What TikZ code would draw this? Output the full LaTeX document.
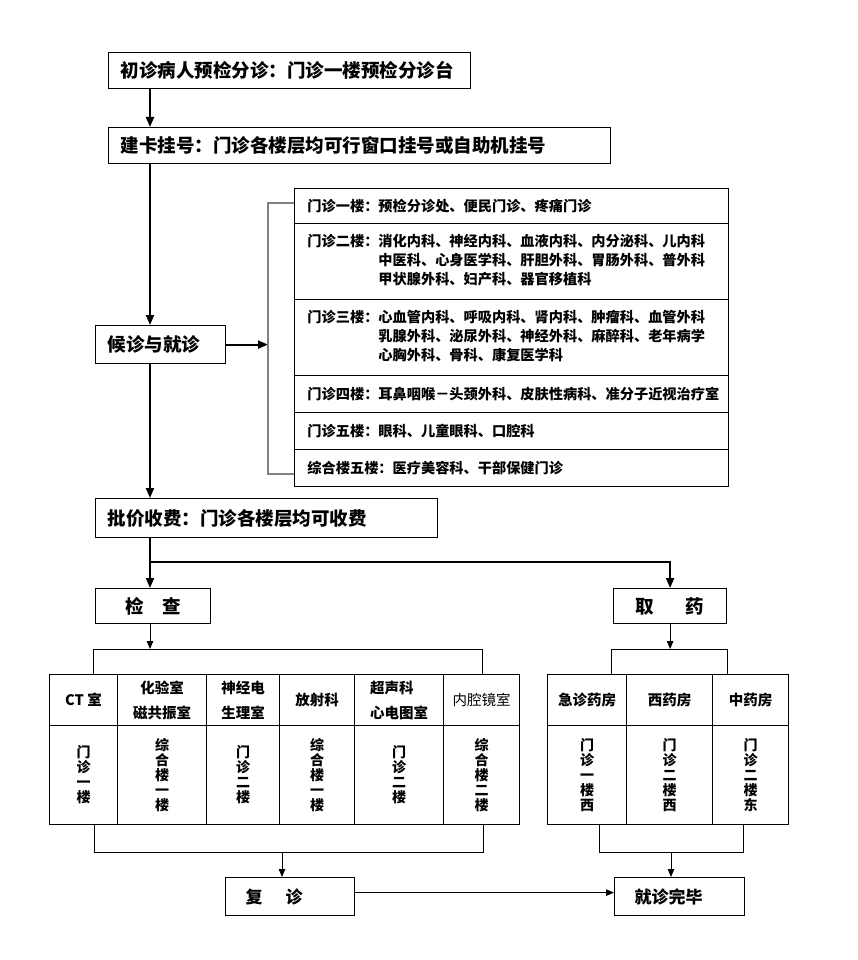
\documentclass[tikz,border=0pt]{standalone}
\usepackage{fontspec}
\setmainfont{Noto Sans CJK SC}
\usepackage{tikz}
\usetikzlibrary{arrows.meta,positioning}
\definecolor{brgray}{RGB}{128,128,128}

\tikzset{
  flowbox/.style={draw, line width=1.2pt, anchor=north west, inner xsep=12pt, inner ysep=0pt,
    align=left, font=\bfseries\fontsize{18.5}{20}\selectfont},
  endbox/.style={flowbox, inner xsep=20pt, font=\bfseries\fontsize{17}{19}\selectfont},
  floorrow/.style={draw, line width=0.9pt, anchor=north west, inner xsep=13pt, inner ysep=0pt,
    text width=408pt, align=left, font=\bfseries\fontsize{14.2}{19}\selectfont},
  headcell/.style={draw, line width=1pt, anchor=north west, inner sep=0pt, align=center,
    minimum height=51pt, font=\bfseries\fontsize{14.5}{25}\selectfont},
  bodycell/.style={draw, line width=1pt, anchor=north west, inner sep=0pt, align=center,
    minimum height=99pt, font=\bfseries\fontsize{14}{15}\selectfont},
  mainarrow/.style={line width=2pt, -{Triangle[length=10pt,width=8pt]}},
  subarrow/.style={line width=1pt, -{Triangle[length=8pt,width=6.5pt]}},
  subline/.style={line width=1pt},
}

\begin{document}
\begin{tikzpicture}[x=1pt,y=-1pt]
    \useasboundingbox (0,0) rectangle (857,960);

    % main flow
    \node[flowbox, text width=338pt, minimum height=36pt] (chuzhen) at (108,52) {初诊病人预检分诊：门诊一楼预检分诊台};
    \node[flowbox, text width=478pt, minimum height=36pt] (guahao) at (108,127) {建卡挂号：门诊各楼层均可行窗口挂号或自助机挂号};
    \node[flowbox, text width=106pt, minimum height=38pt] (houzhen) at (95,325) {候诊与就诊};
    \node[flowbox, text width=318pt, minimum height=39pt] (pijia) at (95,498) {批价收费：门诊各楼层均可收费};
    \node[flowbox, align=center, text width=91pt, minimum height=35pt] (jiancha) at (95,588) {检\hspace{1em}查};
    \node[flowbox, align=center, text width=89pt, minimum height=35pt] (quyao) at (613,588) {取\hspace{1.7em}药};
    \node[endbox, text width=89pt, minimum height=38pt] (fuzhen) at (225,877) {复\hspace{1.35em}诊};
    \node[endbox, text width=90pt, minimum height=38pt] (wanbi) at (614,877) {就诊完毕};

    \coordinate (trunk) at (150,0);
    \coordinate (split) at (150,562);
    \coordinate (brk) at (268,0);

    \draw[mainarrow] (chuzhen.south -| trunk) -- (guahao.north -| trunk);
    \draw[mainarrow] (guahao.south -| trunk) -- (houzhen.north -| trunk);
    \draw[mainarrow] (houzhen.south -| trunk) -- (pijia.north -| trunk);
    \draw[mainarrow] (houzhen.east) -- (houzhen.east -| brk);
    \draw[mainarrow] (pijia.south -| trunk) -- (jiancha.north -| trunk);
    \draw[mainarrow] (split) -| (quyao.north);

    % floors
    \node[floorrow, minimum height=35pt] (floor1) at (294,188) {门诊一楼：预检分诊处、便民门诊、疼痛门诊};
    \node[floorrow, minimum height=76pt] (floor2) at (294,223) {\begin{tabular}{@{}l@{}l@{}}
        门诊二楼：&消化内科、神经内科、血液内科、内分泌科、儿内科\\
        &中医科、心身医学科、肝胆外科、胃肠外科、普外科\\
        &甲状腺外科、妇产科、器官移植科\end{tabular}};
    \node[floorrow, minimum height=76pt] (floor3) at (294,299) {\begin{tabular}{@{}l@{}l@{}}
        门诊三楼：&心血管内科、呼吸内科、肾内科、肿瘤科、血管外科\\
        &乳腺外科、泌尿外科、神经外科、麻醉科、老年病学\\
        &心胸外科、骨科、康复医学科\end{tabular}};
    \node[floorrow, minimum height=37pt] (floor4) at (294,375) {门诊四楼：耳鼻咽喉－头颈外科、皮肤性病科、准分子近视治疗室};
    \node[floorrow, minimum height=37pt] (floor5) at (294,412) {门诊五楼：眼科、儿童眼科、口腔科};
    \node[floorrow, minimum height=37pt] (floor6) at (294,449) {综合楼五楼：医疗美容科、干部保健门诊};

    \draw[brgray, line width=1.3pt] ([yshift=3pt]floor1.west) -- ([yshift=3pt]floor1.west -| brk)
        -- ([yshift=-6pt]floor6.west -| brk) -- ([yshift=-6pt]floor6.west);

    % examinations
    \node[headcell, minimum width=68pt] (ct) at (49,674) {CT 室};
    \node[headcell, minimum width=89pt] (huayan) at (117,674) {化验室\\磁共振室};
    \node[headcell, minimum width=73pt] (shenjing) at (206,674) {神经电\\生理室};
    \node[headcell, minimum width=75pt] (fangshe) at (279,674) {放射科};
    \node[headcell, minimum width=89pt, align=left] (chaosheng) at (354,674) {超声科\\心电图室};
    \node[headcell, minimum width=76pt, font=\mdseries\fontsize{14.5}{25}\selectfont] (neiqiang) at (443,674) {内腔镜室};
    \node[bodycell, minimum width=68pt] (ctb) at (49,725) {门\\诊\\一\\楼};
    \node[bodycell, minimum width=89pt] (huayanb) at (117,725) {综\\合\\楼\\一\\楼};
    \node[bodycell, minimum width=73pt] (shenjingb) at (206,725) {门\\诊\\二\\楼};
    \node[bodycell, minimum width=75pt] (fangsheb) at (279,725) {综\\合\\楼\\一\\楼};
    \node[bodycell, minimum width=89pt] (chaoshengb) at (354,725) {门\\诊\\二\\楼};
    \node[bodycell, minimum width=76pt] (neiqiangb) at (443,725) {综\\合\\楼\\二\\楼};

    % pharmacies
    \node[headcell, minimum width=79pt] (jizhen) at (547,674) {急诊药房};
    \node[headcell, minimum width=86pt] (xiyao) at (626,674) {西药房};
    \node[headcell, minimum width=76pt] (zhongyao) at (712,674) {中药房};
    \node[bodycell, minimum width=79pt] (jizhenb) at (547,725) {门\\诊\\一\\楼\\西};
    \node[bodycell, minimum width=86pt] (xiyaob) at (626,725) {门\\诊\\二\\楼\\西};
    \node[bodycell, minimum width=76pt] (zhongyaob) at (712,725) {门\\诊\\二\\楼\\东};

    % brackets to tables
    \coordinate (exl) at (93,649);
    \coordinate (exr) at (482,649);
    \coordinate (drl) at (611,649);
    \coordinate (drr) at (727,649);
    \draw[subarrow] (jiancha.south -| trunk) -- (exl -| trunk);
    \draw[subline] (exl |- ct.north) -- (exl) -- (exr) -- (exr |- neiqiang.north);
    \draw[subarrow] (quyao.south) -- (quyao.south |- drl);
    \draw[subline] (drl |- jizhen.north) -- (drl) -- (drr) -- (drr |- zhongyao.north);

    % brackets below tables
    \coordinate (exbl) at (94,852);
    \coordinate (exbr) at (483,852);
    \coordinate (fzin) at (282,852);
    \coordinate (drbl) at (599,852);
    \coordinate (drbr) at (743,852);
    \coordinate (wbin) at (671,852);
    \draw[subline] (exbl |- ctb.south) -- (exbl) -- (exbr) -- (exbr |- neiqiangb.south);
    \draw[subarrow] (fzin) -- (fzin |- fuzhen.north);
    \draw[subline] (drbl |- jizhenb.south) -- (drbl) -- (drbr) -- (drbr |- zhongyaob.south);
    \draw[subarrow] (wbin) -- (wbin |- wanbi.north);
    \draw[subarrow] ([yshift=4pt]fuzhen.east) -- ([yshift=4pt]wanbi.west);
\end{tikzpicture}
\end{document}
